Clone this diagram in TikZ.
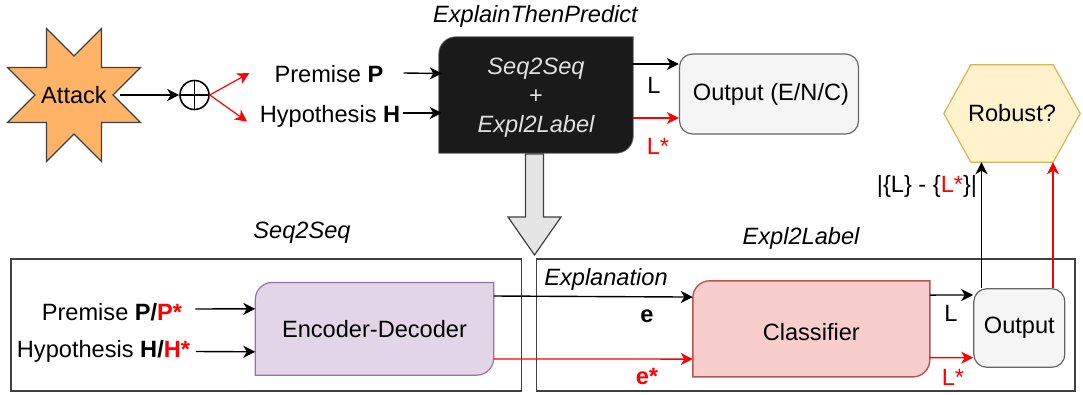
\documentclass[tikz,border=0pt]{standalone}
\usepackage{fontspec}
\setmainfont{Liberation Sans}
\usetikzlibrary{arrows.meta,shapes.geometric,backgrounds}
\definecolor{starfill}{HTML}{FFB366}
\definecolor{darkbox}{HTML}{1A1A1A}
\definecolor{greybox}{HTML}{F5F5F5}
\definecolor{greyline}{HTML}{666666}
\definecolor{frameline}{HTML}{404040}
\definecolor{purplefill}{HTML}{E1D5E7}
\definecolor{purpleline}{HTML}{9673A6}
\definecolor{redfill}{HTML}{F8CECC}
\definecolor{redline}{HTML}{B85450}
\definecolor{yellowfill}{HTML}{FFF2CC}
\definecolor{yellowline}{HTML}{D6B656}
\newcommand{\snipshape}[2]{\draw[#1] (#2.south west) [rounded corners=17pt] -- (#2.north west) [sharp corners] -- (#2.north east) [rounded corners=17pt] -- (#2.south east) [sharp corners] -- (#2.south west) -- cycle;}
\newcommand{\Rstar}[1]{\textcolor{red}{#1*}}
\tikzset{
  txt/.style={inner sep=0pt,font=\fontsize{23.6}{28}\selectfont},
  itxt/.style={txt,font=\fontsize{23.6}{28}\selectfont\itshape},
  flow/.style={line width=1.4pt,-{Stealth[length=12pt,width=12pt,inset=3.5pt]}},
  redflow/.style={flow,red},
  greyround/.style={txt,draw=greyline,fill=greybox,line width=1.2pt,rounded corners=13pt},
  frame/.style={draw=frameline,line width=1.4pt,inner sep=0pt}
}
\begin{document}
\begin{tikzpicture}[x=1pt,y=-1pt]
\useasboundingbox (0,0) rectangle (1083,394);
\node[frame,minimum width=510.6pt,minimum height=132pt] (seqframe) at (266.3,325) {};
\node[frame,minimum width=538.5pt,minimum height=132pt] (explframe) at (805.75,325) {};
\draw[draw=frameline,fill=black!10,line width=1.2pt] (525.5,154)--(543.5,154)--(543.5,217)--(561,217)--(534.5,255)--(508,217)--(525.5,217)--cycle;

\node[star,star points=8,star point ratio=1.85,shape border rotate=22.5,minimum size=144pt,inner sep=0pt,draw=frameline,fill=starfill,line width=1.2pt,label={[txt]center:Attack}] (attack) at (74,95) {};
\node[circle,draw,line width=1.6pt,minimum size=29pt,inner sep=0pt,path picture={
  \draw[line width=1.5pt] (path picture bounding box.north)--(path picture bounding box.south);
  \draw[line width=1.5pt] (path picture bounding box.west)--(path picture bounding box.east);}] (plus) at (194.5,95) {};
\node[txt] (premise) at (329,74.5) {Premise \textbf{P}};
\node[txt] (hypo) at (330,116.5) {Hypothesis \textbf{H}};
\node[itxt] (toptitle) at (535.5,16) {ExplainThenPredict};
\node[itxt,minimum width=194pt,minimum height=116pt,align=center,text=black!12] (coder) at (536,95) {\rule{0pt}{22pt}Seq2Seq\\[1pt]{\upshape +}\\[1pt]Expl2Label};
\node[greyround,minimum width=179pt,minimum height=80pt] (outtop) at (769,94) {\,Output (E/N/C)};
\node[txt] (ltop) at (654,85) {L};
\node[txt,text=red] (lstar) at (658,146) {L*};
\node[txt,minimum width=136pt,minimum height=97pt] (robust) at (1012,113.5) {Robust?};
\node[txt] (diff) at (927,186) {|\{L\} - \{\Rstar{L}\}|};

\node[itxt] (seqtitle) at (302,233) {Seq2Seq};
\node[itxt] (expltitle) at (801,238) {Expl2Label};
\node[txt] (premiseb) at (112,312) {Premise \textbf{P/\Rstar{P}}};
\node[txt] (hypob) at (103.5,351) {Hypothesis \textbf{H/\Rstar{H}}};
\node[txt,minimum width=238pt,minimum height=92.3pt] (encdec) at (374.5,328.8) {Encoder-Decoder};
\node[itxt] (explan) at (606,279) {Explanation};
\node[txt,font=\fontsize{23.6}{28}\selectfont\bfseries] (elab) at (647,316) {e};
\node[txt,font=\fontsize{23.6}{28}\selectfont\bfseries,text=red] (estar) at (647,376) {e*};
\node[minimum width=236.6pt,minimum height=95.7pt,inner sep=0pt,label={[txt,yshift=-3pt]center:Classifier}] (classifier) at (811.3,328.85) {};
\node[txt] (lbot) at (951,313) {L};
\node[txt,text=red] (lbstar) at (953,377) {L*};
\node[greyround,minimum width=91pt,minimum height=78.6pt] (outbot) at (1019.3,328) {Output};

\begin{pgfonlayer}{background}
\snipshape{fill=darkbox,draw=greyline,line width=0.8pt}{coder}
\snipshape{fill=purplefill,draw=purpleline,line width=1.2pt}{encdec}
\snipshape{fill=redfill,draw=redline,line width=1.4pt}{classifier}
\draw[fill=yellowfill,draw=yellowline,line width=1.2pt] (robust.west) -- ([xshift=27pt]robust.north west) -- ([xshift=-27pt]robust.north east) -- (robust.east) -- ([xshift=-27pt]robust.south east) -- ([xshift=27pt]robust.south west) -- cycle;
\end{pgfonlayer}

\coordinate (attackout) at ([xshift=46pt]attack.center);
\coordinate (redp) at ([xshift=-25pt,yshift=1.5pt]premise.west);
\coordinate (redh) at ([xshift=-12.5pt,yshift=-5pt]hypo.west);
\coordinate (blackup) at ([xshift=-37.8pt]outbot.north);
\coordinate (redup) at ([xshift=33.7pt]outbot.north);
\draw[flow] (attackout) -- (plus.west);
\draw[redflow,line width=1.2pt] (plus.east) -- (redp);
\draw[redflow,line width=1.2pt] (plus.east) -- (redh);
\draw[flow] ([xshift=20pt,yshift=1.5pt]premise.east) -- ([xshift=3pt,yshift=21.5pt]coder.west);
\draw[flow] ([xshift=3pt,yshift=3.5pt]hypo.east) -- ([xshift=3pt,yshift=-18pt]coder.west);
\draw[flow] ([yshift=31pt]coder.east) -- ([yshift=30pt]outtop.west);
\draw[redflow] ([yshift=-23pt]coder.east) -- ([yshift=-24pt]outtop.west);
\draw[flow] (blackup) -- (blackup |- robust.south);
\draw[redflow] (redup) -- (redup |- robust.south);
\draw[flow] ([xshift=13pt,yshift=3pt]premiseb.east) -- ([yshift=20pt]encdec.west);
\draw[flow] ([xshift=5.5pt,yshift=-0.5pt]hypob.east) -- ([yshift=-23pt]encdec.west);
\draw[flow] ([yshift=32.8pt]encdec.east) -- ([yshift=31.8pt]classifier.west);
\draw[redflow] ([yshift=-30.2pt]encdec.east) -- ([yshift=-30.2pt]classifier.west);
\draw[flow] ([yshift=33.8pt]classifier.east) -- ([yshift=33pt]outbot.west);
\draw[redflow] ([yshift=-28.8pt]classifier.east) -- ([yshift=-29.7pt]outbot.west);
\end{tikzpicture}
\end{document}
